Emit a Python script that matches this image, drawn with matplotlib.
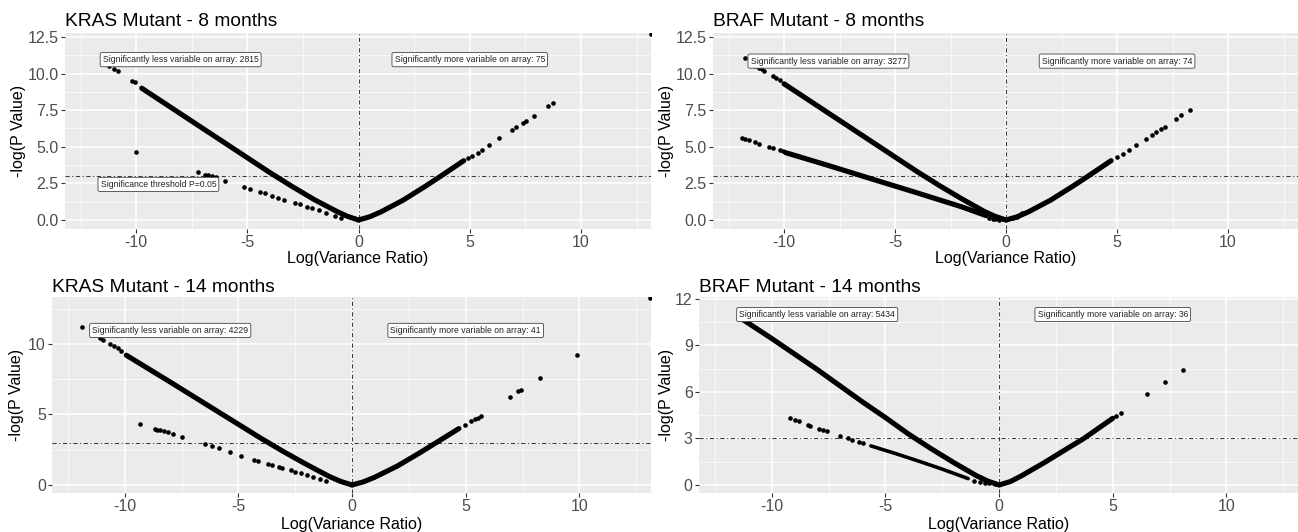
#!/usr/bin/env python3
"""
Variance ratio volcano plots, KRAS / BRAF mutant at 8 and 14 months
ggplot-like look redone in matplotlib
"""

import matplotlib
matplotlib.use("Agg")
import matplotlib.pyplot as plt

plt.rcParams['font.family'] = ['Liberation Sans', 'DejaVu Sans']
plt.rcParams['axes.unicode_minus'] = False

# ---- data -------------------------------------------------------------

# KRAS 8 months
k8_left_x = [-9.75, -8.0, -6.0, -5.0, -4.0, -3.0, -2.0, -1.0, -0.5, 0.0]
k8_left_y = [9.0, 7.25, 5.25, 4.25, 3.25, 2.3, 1.4, 0.6, 0.25, 0.0]
k8_right_x = [0.0, 0.5, 1.0, 2.0, 3.0, 3.7, 4.73]
k8_right_y = [0.0, 0.22, 0.55, 1.35, 2.3, 3.0, 4.05]
k8_dots_x = [-11.2, -11.0, -10.8, -10.2, -10.07, -10.0,
             -7.2, -6.9, -6.77, -6.6, -6.4, -6.0, -5.15, -4.9, -4.43, -4.2,
             -3.87, -3.6, -3.35, -2.88, -2.65, -2.3, -2.1, -1.8, -1.45, -1.07, -0.8,
             4.92, 5.1, 5.35, 5.57, 5.85, 6.3, 6.88, 7.07, 7.4, 7.53, 7.87, 8.52, 8.75,
             13.15]
k8_dots_y = [10.5, 10.3, 10.15, 9.5, 9.4, 4.66,
             3.3, 3.1, 3.06, 3.0, 2.95, 2.65, 2.25, 2.1, 1.9, 1.82,
             1.64, 1.5, 1.37, 1.15, 1.06, 0.88, 0.8, 0.68, 0.47, 0.25, 0.16,
             4.2, 4.39, 4.6, 4.8, 5.1, 5.58, 6.17, 6.33, 6.64, 6.78, 7.12, 7.77, 8.02,
             12.7]

# BRAF 8 months
b8_left_x = [-10.0, -8.0, -6.0, -5.0, -4.0, -3.0, -2.0, -1.0, -0.5, 0.0]
b8_left_y = [9.3, 7.3, 5.3, 4.3, 3.3, 2.35, 1.45, 0.6, 0.25, 0.0]
b8_low_x = [-9.93, -8.0, -6.0, -4.0, -2.0, -0.9]
b8_low_y = [4.6, 3.72, 2.78, 1.85, 0.9, 0.3]
b8_right_x = [0.0, 0.5, 1.0, 2.0, 3.0, 3.7, 4.73]
b8_right_y = [0.0, 0.22, 0.55, 1.35, 2.3, 3.0, 4.05]
b8_dots_x = [-11.75, -11.3, -11.15, -11.0, -10.9, -10.5, -10.35, -10.2,
             -11.9, -11.75, -11.6, -11.3, -11.14, -10.67, -10.5, -10.2, -10.05,
             -0.75, -0.6, -0.5, -0.4, -0.3, -0.15, 0.3, 0.5, 0.7,
             5.0, 5.28, 5.56, 5.84, 6.3, 6.59, 6.77, 6.96, 7.15, 7.65, 7.89, 8.28]
b8_dots_y = [11.05, 10.55, 10.4, 10.3, 10.2, 9.85, 9.7, 9.55,
             5.59, 5.53, 5.47, 5.3, 5.2, 5.0, 4.9, 4.75, 4.68,
             0.15, 0.1, 0.05, 0.12, 0.03, 0.08, 0.12, 0.2, 0.45,
             4.3, 4.53, 4.8, 5.09, 5.52, 5.81, 6.0, 6.19, 6.37, 6.89, 7.14, 7.5]

# KRAS 14 months
k14_left_x = [-9.93, -8.0, -6.0, -5.0, -4.0, -3.0, -2.0, -1.0, -0.5, 0.0]
k14_left_y = [9.2, 7.3, 5.3, 4.3, 3.3, 2.35, 1.45, 0.6, 0.25, 0.0]
k14_right_x = [0.0, 0.5, 1.0, 2.0, 3.0, 3.7, 4.7]
k14_right_y = [0.0, 0.22, 0.55, 1.35, 2.3, 3.0, 4.0]
k14_dots_x = [-11.9, -11.3, -11.1, -10.97, -10.66, -10.47, -10.3, -10.15,
              -9.34, -8.68, -8.56, -8.43, -8.28, -8.1, -7.86, -7.46, -6.49, -6.14,
              -5.87, -5.36, -4.9, -4.31, -4.13, -3.71, -3.53, -3.22, -3.07, -2.7,
              -2.49, -2.25, -1.97, -1.7, -1.43, -1.15,
              4.97, 5.25, 5.4, 5.52, 5.65, 6.95, 7.31, 7.42, 8.26, 9.91, 13.1]
k14_dots_y = [11.17, 10.6, 10.45, 10.26, 10.0, 9.86, 9.69, 9.5,
              4.33, 3.97, 3.92, 3.88, 3.8, 3.73, 3.59, 3.37, 2.87, 2.73,
              2.63, 2.32, 2.06, 1.77, 1.72, 1.46, 1.39, 1.27, 1.22, 1.03,
              0.93, 0.84, 0.69, 0.57, 0.45, 0.31,
              4.23, 4.54, 4.66, 4.78, 4.9, 6.22, 6.63, 6.75, 7.58, 9.2, 13.25]

# BRAF 14 months
b14_left_x = [-11.3, -10.0, -8.0, -6.0, -5.0, -4.0, -3.0, -2.0, -1.0, -0.5, 0.0]
b14_left_y = [10.7, 9.45, 7.45, 5.35, 4.35, 3.3, 2.35, 1.45, 0.6, 0.25, 0.0]
b14_low_x = [-5.64, -4.5, -3.5, -2.5, -1.36]
b14_low_y = [2.52, 2.0, 1.52, 1.02, 0.41]
b14_right_x = [0.0, 0.5, 1.0, 2.0, 3.0, 3.73, 5.0]
b14_right_y = [0.0, 0.22, 0.6, 1.45, 2.35, 3.0, 4.3]
b14_dots_x = [-9.18, -8.96, -8.82, -8.4, -8.31, -7.91, -7.73, -7.55, -7.0,
              -6.64, -6.45, -6.18, -6.0, -1.1, -0.82, -0.64, -0.45, -0.2,
              5.15, 5.35, 6.51, 7.31, 8.09]
b14_dots_y = [4.29, 4.18, 4.12, 3.86, 3.81, 3.64, 3.56, 3.45, 3.17,
              3.0, 2.91, 2.8, 2.69, 0.28, 0.2, 0.15, 0.1, 0.05,
              4.45, 4.65, 5.86, 6.66, 7.41]

titles = ["KRAS Mutant - 8 months", "BRAF Mutant - 8 months",
          "KRAS Mutant - 14 months", "BRAF Mutant - 14 months"]
less_counts = [2815, 3277, 4229, 5434]
more_counts = [75, 74, 41, 36]
label_y = [10.95, 10.85, 10.96, 11.0]
threshold = 3.0

y_ticks = [[0, 2.5, 5, 7.5, 10, 12.5], [0, 2.5, 5, 7.5, 10, 12.5], [0, 5, 10], [0, 3, 6, 9, 12]]
y_ticklabels = [["0.0", "2.5", "5.0", "7.5", "10.0", "12.5"],
                ["0.0", "2.5", "5.0", "7.5", "10.0", "12.5"],
                ["0", "5", "10"],
                ["0", "3", "6", "9", "12"]]
y_minor = [[1.25, 3.75, 6.25, 8.75, 11.25], [1.25, 3.75, 6.25, 8.75, 11.25],
           [2.5, 7.5, 12.5], [1.5, 4.5, 7.5, 10.5]]
x_ticks = [-10, -5, 0, 5, 10]
x_minor = [-12.5, -7.5, -2.5, 2.5, 7.5, 12.5]

# ---- layout (pixels, top-left origin) ---------------------------------
W, H = 1298, 532
# left, top, right, bottom, ylim
boxes = [(65, 33, 651, 229, (-0.615, 12.77)),
         (713, 33, 1298, 229, (-0.615, 12.77)),
         (52, 297, 651, 493, (-0.57, 13.33)),
         (699, 297, 1298, 493, (-0.52, 12.13))]
ylab_x = [19, 667, 17, 667]
XLIM = (-13.2, 13.15)

lines = [
    [(k8_left_x, k8_left_y), (k8_right_x, k8_right_y)],
    [(b8_left_x, b8_left_y), (b8_low_x, b8_low_y), (b8_right_x, b8_right_y)],
    [(k14_left_x, k14_left_y), (k14_right_x, k14_right_y)],
    [(b14_left_x, b14_left_y), (b14_right_x, b14_right_y)],
]
thin_lines = [[], [], [], [(b14_low_x, b14_low_y)]]
dots = [(k8_dots_x, k8_dots_y), (b8_dots_x, b8_dots_y),
        (k14_dots_x, k14_dots_y), (b14_dots_x, b14_dots_y)]

fig = plt.figure(figsize=(W / 100, H / 100), dpi=100)
fig.patch.set_facecolor('white')

label_box = dict(boxstyle='round,pad=0.3,rounding_size=0.2', fc='white',
                 ec='#444444', lw=0.6)

for i in range(4):
    left, top, right, bottom, ylim = boxes[i]
    ax = fig.add_axes([left / W, 1 - bottom / H, (right - left) / W, (bottom - top) / H])
    ax.set_facecolor('#EBEBEB')
    for s in ax.spines.values():
        s.set_visible(False)

    ax.set_xlim(*XLIM)
    ax.set_ylim(*ylim)
    ax.set_xticks(x_ticks)
    ax.set_xticklabels([str(t) for t in x_ticks])
    ax.set_xticks(x_minor, minor=True)
    ax.set_yticks(y_ticks[i])
    ax.set_yticklabels(y_ticklabels[i])
    ax.set_yticks(y_minor[i], minor=True)
    ax.tick_params(which='major', length=3, width=0.8, color='#333333',
                   labelcolor='#4D4D4D', labelsize=11.5, pad=1.5)
    ax.tick_params(which='minor', length=0)
    ax.grid(which='major', color='white', lw=1.1)
    ax.grid(which='minor', color='white', lw=0.5)
    ax.set_axisbelow(True)

    # reference lines
    ax.axhline(threshold, color='#3a3a3a', lw=0.75, ls=(0, (4, 2.5, 1, 2.5)), zorder=2)
    ax.axvline(0, color='#3a3a3a', lw=0.75, ls=(0, (4, 2.5, 1, 2.5)), zorder=2)

    # dense runs of points
    for xs, ys in lines[i]:
        ax.plot(xs, ys, color='black', lw=3.7, solid_capstyle='round',
                solid_joinstyle='round', zorder=3)
    for xs, ys in thin_lines[i]:
        ax.plot(xs, ys, color='black', lw=2.6, solid_capstyle='round', zorder=3)
    ax.scatter(dots[i][0], dots[i][1], s=11, color='black', lw=0, zorder=3,
               clip_on=True)

    # count labels
    ax.text(-8, label_y[i], f"Significantly less variable on array: {less_counts[i]}",
            ha='center', va='center', fontsize=6.2, color='#222222', bbox=label_box, zorder=5)
    ax.text(5, label_y[i], f"Significantly more variable on array: {more_counts[i]}",
            ha='center', va='center', fontsize=6.2, color='#222222', bbox=label_box, zorder=5)
    if i == 0:
        ax.text(-9.0, 2.43, "Significance threshold P=0.05", ha='center', va='center',
                fontsize=6.2, color='#222222', bbox=label_box, zorder=5)

    # titles and axis labels
    row_top = 0 if i < 2 else 266
    fig.text(left / W, 1 - (row_top + 26) / H, titles[i], ha='left', va='baseline',
             fontsize=13.8, color='black')
    fig.text((left + right) / 2 / W, 1 - (row_top + 258) / H, "Log(Variance Ratio)",
             ha='center', va='center', fontsize=11.5, color='black')
    fig.text(ylab_x[i] / W, 1 - (top + bottom) / 2 / H, "-log(P Value)",
             ha='center', va='center', rotation=90, fontsize=11.5, color='black')

fig.savefig('out.png', dpi=100)
